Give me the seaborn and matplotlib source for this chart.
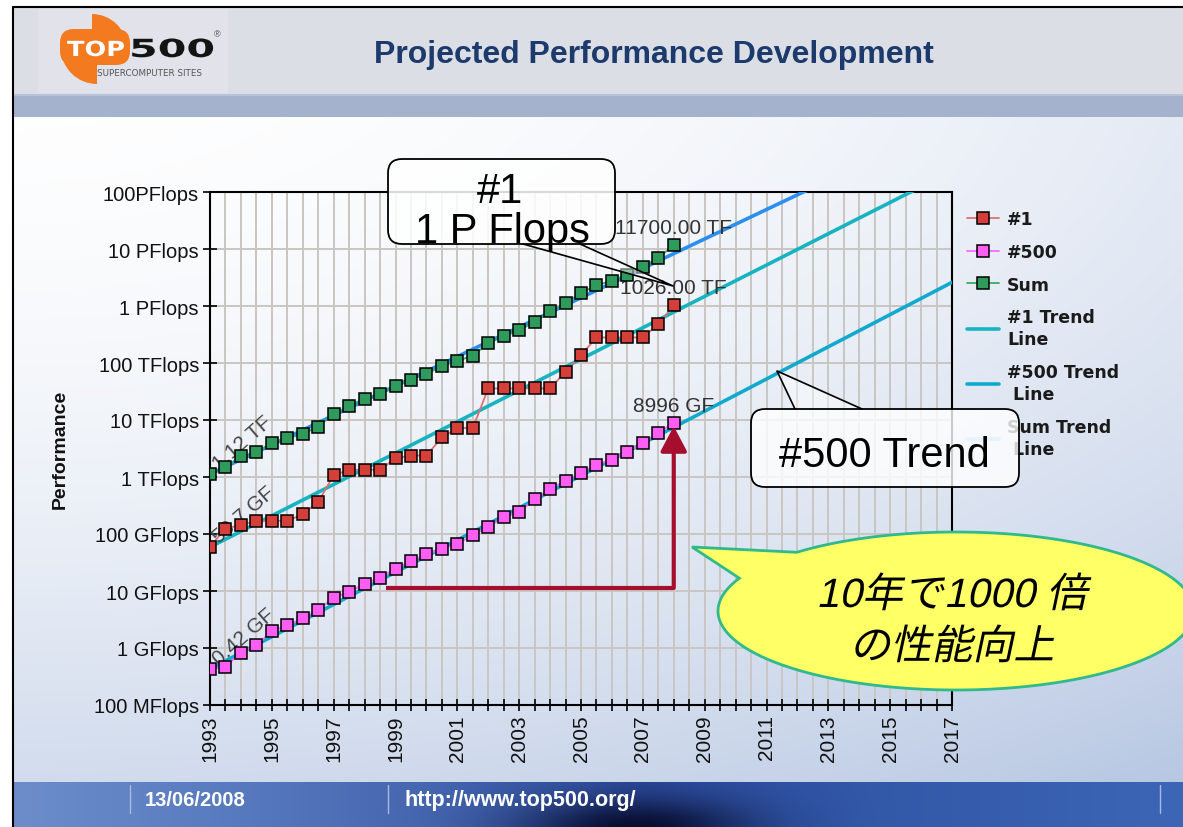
import numpy as np
import pandas as pd
import matplotlib
matplotlib.use("Agg")
import matplotlib.pyplot as plt
import seaborn as sns
from matplotlib.patches import FancyBboxPatch, Polygon, Rectangle, Wedge
from matplotlib.lines import Line2D
from matplotlib.transforms import Affine2D
from matplotlib.patheffects import AbstractPathEffect
from matplotlib.ticker import FixedLocator, FixedFormatter, MultipleLocator, NullLocator

# ---------------- data (GFlops) ----------------
list_years = [1993.0, 1993.5, 1994.0, 1994.5, 1995.0, 1995.5, 1996.0, 1996.5, 1997.0, 1997.5,
              1998.0, 1998.5, 1999.0, 1999.5, 2000.0, 2000.5, 2001.0, 2001.5, 2002.0, 2002.5,
              2003.0, 2003.5, 2004.0, 2004.5, 2005.0, 2005.5, 2006.0, 2006.5, 2007.0, 2007.5,
              2008.0]
top1_gf = [59.7, 124.5, 143.4, 170.4, 170.4, 170.4, 220.4, 368.2, 1068, 1338,
           1338, 1338, 2121, 2379, 2379, 4938, 7226, 7226, 35860, 35860,
           35860, 35860, 35860, 70720, 136800, 280600, 280600, 280600, 280600, 478200,
           1026000]
top500_gf = [0.422, 0.472, 0.822, 1.114, 1.955, 2.489, 3.306, 4.620, 7.680, 9.513,
             13.39, 17.12, 24.73, 33.08, 43.82, 55.11, 67.78, 94.30, 134.3, 195.8,
             245.1, 403.4, 624.0, 850.6, 1166, 1646, 2026, 2737, 4005, 5929,
             8996]
sum_gf = [1128, 1493, 2317, 2732, 3916, 4784, 5680, 7670, 12640, 17780,
          23800, 28600, 39300, 50800, 64300, 88100, 108500, 134600, 222200, 293200,
          374900, 528400, 813200, 1127000, 1690000, 2300000, 2790000, 3540000, 4920000, 6970000,
          11700000]

trend_years = [1993.0, 2017.0]
trend_top1_gf = [59.0, 2.33e8]
trend_top500_gf = [0.43, 2.6e6]
trend_sum_gf = [1120.0, 1.74e9]

first_labels = ["59.7 GF", "0.42 GF", "1.12 TF"]
last_labels = ["1026.00 TF", "8996 GF", "11700.00 TF"]

year_ticks = [1993, 1995, 1997, 1999, 2001, 2003, 2005, 2007, 2009, 2011, 2013, 2015, 2017]
perf_ticks = [0.1, 1, 10, 100, 1e3, 1e4, 1e5, 1e6, 1e7, 1e8]
perf_labels = ["100 MFlops", "1 GFlops", "10 GFlops", "100 GFlops", "1 TFlops",
               "10 TFlops", "100 TFlops", "1 PFlops", "10 PFlops", "100PFlops"]

# arrow annotation (1000x in 10 years)
arrow_start_year = 1998.7
arrow_end_year = 2008.0
arrow_level_gf = 11.3
arrow_tip_gf = 7800.0


class AffinePE(AbstractPathEffect):
    """Apply an extra affine (skew / stretch) to text about its baseline origin."""
    def __init__(self, skew=0.0, sx=1.0):
        super().__init__()
        self.skew = skew
        self.sx = sx

    def draw_path(self, renderer, gc, tpath, affine, rgbFace=None):
        x0, y0 = affine.transform((0.0, 0.0))
        extra = Affine2D().translate(-x0, -y0).scale(self.sx, 1.0).skew_deg(self.skew, 0) \
            .translate(x0, y0)
        renderer.draw_path(gc, tpath, affine + extra, rgbFace)


# ---------------- style ----------------
sns.set_theme(style="white")
plt.rcParams['font.family'] = ['Liberation Sans', 'DejaVu Sans', 'Noto Sans CJK JP']

W, H = 1183, 828
fig = plt.figure(figsize=(W / 100, H / 100), dpi=100)

# ---------------- slide background ----------------
bg = fig.add_axes([0, 0, 1, 1], zorder=0)
yy, xx = np.mgrid[0:H, 0:W]
xn = xx / W
yn = yy / H
t = np.clip(0.3 * xn ** 2 + 0.6 * yn ** 2, 0, 1)
c1 = np.array([0xa9, 0xbc, 0xdd]) / 255
img = (1 - t[..., None]) * 1.0 + t[..., None] * c1
bg.imshow(img, extent=(0, W, H, 0), aspect='auto', zorder=0)

# footer gradient
fy0 = 783
fh = H - fy0
fx = np.arange(W)
stops_x = [0, 200, 420, 640, 860, W]
stops_c = np.array([[0x6d, 0x8d, 0xca], [0x5a, 0x7c, 0xc0], [0x45, 0x66, 0xb0],
                    [0x2a, 0x48, 0x98], [0x32, 0x58, 0xa8], [0x3d, 0x66, 0xb6]]) / 255
foot = np.zeros((fh, W, 3))
for k in range(3):
    foot[:, :, k] = np.interp(fx, stops_x, stops_c[:, k])[None, :]
fyy, fxx = np.mgrid[0:fh, 0:W]
blob = np.exp(-((fxx - 630) / 110.0) ** 2 - ((fyy - fh) / 28.0) ** 2)
dark = np.array([0x08, 0x0e, 0x30]) / 255
foot = foot * (1 - blob[..., None]) + dark * blob[..., None]
bg.imshow(foot, extent=(13, W, H, fy0), aspect='auto', zorder=1)

bg.add_patch(Rectangle((13, 8), W - 13, 87, fc='#dcdee6', ec='none', zorder=2))
bg.add_patch(Rectangle((38, 10), 190, 84, fc='#e1e2ea', ec='none', zorder=2))
bg.add_patch(Rectangle((13, 95), W - 13, 23, fc='#a5b2cd', ec='none', zorder=2))
bg.add_patch(Rectangle((13, 95), W - 13, 2, fc='#b8c3da', ec='none', zorder=2))
bg.add_patch(Rectangle((0, 0), W, 8, fc='white', ec='none', zorder=3))
bg.add_patch(Rectangle((0, 0), 13, H, fc='white', ec='none', zorder=3))
bg.plot([13, 13], [8, H], color='black', lw=1.5, zorder=4)
bg.plot([13, W], [8, 8], color='black', lw=1.5, zorder=4)
for sx in [130, 388, 1160]:
    bg.plot([sx, sx], [786, 814], color='#a8badf', lw=1.0, zorder=4)
bg.text(145, 801, "13/06/2008", color='white', fontweight='bold', fontsize=14.5,
        va='center', ha='left', zorder=5)
bg.text(405, 801, "http://www.top500.org/", color='white', fontweight='bold', fontsize=15.5,
        va='center', ha='left', zorder=5)

# title & logo
bg.text(654, 55, "Projected Performance Development", ha='center', va='center',
        fontsize=23, fontweight='bold', color='#1d3a6c', zorder=5)
orange = '#f47a20'
bg.add_patch(Wedge((92, 50), 35, 270, 360, fc=orange, ec='none', zorder=4))
bg.add_patch(Wedge((97, 49), 36, 90, 180, fc=orange, ec='none', zorder=4))
bg.add_patch(FancyBboxPatch((60, 30), 70, 36, boxstyle='round,pad=0,rounding_size=14',
                            fc=orange, ec='none', zorder=4))
bg.text(67, 57, "TOP", color='white', fontsize=15, fontweight='bold', ha='left',
        va='baseline', family='DejaVu Sans', zorder=5, path_effects=[AffinePE(sx=1.23)])
bg.text(129, 58, "500", color='#141414', fontsize=18, fontweight='bold', ha='left',
        va='baseline', family='DejaVu Sans', zorder=5, path_effects=[AffinePE(sx=1.65)])
bg.text(217, 35, "®", color='#444444', fontsize=6.5, ha='center', va='center', zorder=5)
bg.text(97, 73, "SUPERCOMPUTER SITES", color='#555555', fontsize=6.3, ha='left',
        va='center', family='DejaVu Sans', zorder=5)
bg.set_xlim(0, W)
bg.set_ylim(H, 0)
bg.axis('off')

# ---------------- main chart ----------------
ax = fig.add_axes([210 / W, 1 - 706 / H, 742 / W, 513 / H], zorder=2)
ax.patch.set_alpha(0)

df = pd.DataFrame({'year': list_years, 'top1': top1_gf, 'top500': top500_gf, 'sum': sum_gf})
mk = dict(marker='s', markersize=8, markeredgecolor='black', markeredgewidth=1.1, errorbar=None)
sns.lineplot(data=df, x='year', y='top1', ax=ax, color='#e07070', lw=1.3,
             markerfacecolor='#d43f3a', label='#1', zorder=5, **mk)
sns.lineplot(data=df, x='year', y='top500', ax=ax, color='#ff66ff', lw=1.3,
             markerfacecolor='#ff5ef5', label='#500', zorder=5, **mk)
sns.lineplot(data=df, x='year', y='sum', ax=ax, color='#3cab6a', lw=1.3,
             markerfacecolor='#2e9a5c', label='Sum', zorder=5, **mk)
sns.lineplot(x=trend_years, y=trend_top1_gf, ax=ax, color='#17b3c1', lw=2.6,
             label='#1 Trend\nLine', zorder=3, errorbar=None)
sns.lineplot(x=trend_years, y=trend_top500_gf, ax=ax, color='#12a9cf', lw=2.6,
             label='#500 Trend\n Line', zorder=3, errorbar=None)
sns.lineplot(x=trend_years, y=trend_sum_gf, ax=ax, color='#2a8ff0', lw=2.6,
             label='Sum Trend\n Line', zorder=3, errorbar=None)
handles = list(ax.get_lines()[:6])
labels = [h.get_label() for h in handles]
handles[5] = Line2D([], [], color='#8cc2f6', lw=2.6)

ax.set_yscale('log')
ax.set_xlim(1993, 2017)
ax.set_ylim(perf_ticks[0], perf_ticks[-1])
ax.yaxis.set_major_locator(FixedLocator(perf_ticks))
ax.yaxis.set_major_formatter(FixedFormatter(perf_labels))
ax.yaxis.set_minor_locator(NullLocator())
ax.xaxis.set_major_locator(FixedLocator(year_ticks))
ax.xaxis.set_major_formatter(FixedFormatter([str(y) for y in year_ticks]))
ax.xaxis.set_minor_locator(MultipleLocator(0.5))
ax.tick_params(axis='x', which='both', direction='inout', length=9, width=1.2,
               color='black', bottom=True)
ax.tick_params(axis='x', which='major', labelrotation=90, labelsize=15, pad=2,
               labelcolor='#111111')
ax.tick_params(axis='y', which='major', direction='inout', length=10, width=1.2,
               color='black', left=True, labelsize=14.5, pad=3, labelcolor='#111111')
ax.grid(True, which='both', axis='x', color='#c9c6c2', lw=1.4)
ax.grid(True, which='major', axis='y', color='#c9c6c2', lw=1.4)
for sp in ax.spines.values():
    sp.set_color('black')
    sp.set_linewidth(1.5)
ax.set_xlabel('')
ax.set_ylabel('Performance', fontsize=14, fontweight='bold', color='#111111')
ax.yaxis.set_label_coords(-0.191, 0.5)

# value labels
for series, lab in zip([top1_gf, top500_gf, sum_gf], first_labels):
    ax.annotate(lab, xy=(list_years[0], series[0]), xytext=(12, 1), textcoords='offset pixels',
                ha='left', va='bottom', rotation=41, rotation_mode='anchor',
                fontsize=15, color='#444444', zorder=4)
for series, lab in zip([top1_gf, top500_gf, sum_gf], last_labels):
    ax.annotate(lab, xy=(list_years[-1], series[-1]), xytext=(0, 8), textcoords='offset pixels',
                ha='center', va='bottom', fontsize=15, color='#333333', zorder=4)

# red arrow
ax.plot([arrow_start_year, arrow_end_year], [arrow_level_gf, arrow_level_gf],
        color='#a50f2d', lw=3.0, solid_capstyle='butt', zorder=6)
ax.annotate('', xy=(arrow_end_year, arrow_tip_gf), xytext=(arrow_end_year, arrow_level_gf),
            arrowprops=dict(arrowstyle='-|>,head_length=0.95,head_width=0.5', color='#a50f2d',
                            lw=3.0, mutation_scale=16, shrinkA=0, shrinkB=0), zorder=6)

leg = ax.legend(handles=handles, labels=labels, loc='upper left',
                bbox_to_anchor=(967 / W, 1 - 211 / H), bbox_transform=fig.transFigure,
                frameon=False, prop={'weight': 'bold', 'size': 12.5, 'family': 'DejaVu Sans'},
                handlelength=1.85, handletextpad=0.45, labelspacing=0.85, borderpad=0,
                borderaxespad=0, labelcolor='#1a1a1a')
for txt in leg.get_texts():
    txt.set_linespacing(1.3)

# ---------------- overlay callouts ----------------
ov = fig.add_axes([0, 0, 1, 1], zorder=5)
ov.set_xlim(0, W)
ov.set_ylim(H, 0)
ov.axis('off')

# "#1 1 P Flops" callout
ov.add_patch(Polygon([[523, 244], [673, 287], [580, 244]], closed=True,
                     fc=(1, 1, 1, 0.45), ec='none'))
ov.plot([523, 673, 580], [245, 287, 245], color='black', lw=1.2)
ov.add_patch(FancyBboxPatch((388, 160), 227, 85, boxstyle='round,pad=0,rounding_size=14',
                            fc=(1, 1, 1, 0.85), ec='black', lw=1.3))
ov.text(500, 203, "#1", ha='center', va='baseline', fontsize=30, color='black')
ov.text(502, 243, "1 P Flops", ha='center', va='baseline', fontsize=30, color='black')

# "#500 Trend" callout
ov.add_patch(Polygon([[795, 411], [777, 372], [862, 411]], closed=True,
                     fc=(1, 1, 1, 0.45), ec='none'))
ov.plot([795, 777, 862], [410, 372, 410], color='black', lw=1.2)
ov.add_patch(FancyBboxPatch((751, 410), 268, 78, boxstyle='round,pad=0,rounding_size=14',
                            fc=(1, 1, 1, 0.8), ec='black', lw=1.3))
ov.text(884, 467, "#500 Trend", ha='center', va='baseline', fontsize=30, color='black')

# yellow speech bubble
cx, cy, ea, eb = 956, 612, 238, 79
th = np.deg2rad(np.linspace(-132, 204.5, 240))
pts = np.column_stack([cx + ea * np.cos(th), cy + eb * np.sin(th)])
pts = np.vstack([pts, [[692, 548]]])
ov.add_patch(Polygon(pts, closed=True, fc='#ffff66', ec='#2fb98c', lw=2.0))
jp_font = ['Liberation Sans', 'Noto Sans CJK JP']
ov.text(952, 608, "10年で1000 倍", ha='center', va='baseline', fontsize=29.5,
        family=jp_font, color='black', path_effects=[AffinePE(skew=12)])
ov.text(952, 660, "の性能向上", ha='center', va='baseline', fontsize=29.5,
        family=jp_font, color='black', path_effects=[AffinePE(skew=12)])

fig.savefig("out.png", dpi=100)
